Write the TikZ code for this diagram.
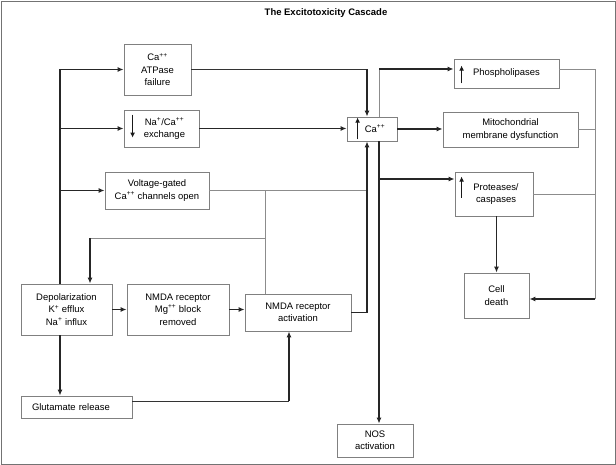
\documentclass[tikz,border=0pt]{standalone}
\usepackage{fontspec}
\setmainfont{Liberation Sans}
\usetikzlibrary{positioning, arrows.meta}

\begin{document}
\begin{tikzpicture}[x=1bp, y=-1bp,
    box/.style={rectangle, draw=black!50, line width=0.8bp, inner sep=1bp, align=center, font=\fontsize{9.5}{12.5}\selectfont},
    arr/.style={-{Latex[length=6bp,width=5bp]}, line width=1.3bp, black!85},
    link/.style={line width=0.8bp, black!45},
    dlink/.style={line width=0.9bp, black!80},
    glyph/.style={-{Latex[length=5bp,width=5bp]}, line width=1.7bp, black!90}]

    \useasboundingbox (0,0) rectangle (616,465);
    \draw[black!55, line width=0.8bp] (1,1) rectangle (615,464);

    % Nodes
    \node (title) at (326,13) [font=\bfseries\fontsize{9.5}{11}\selectfont] {The Excitotoxicity Cascade};
    \node (caatp) [box, minimum width=67bp, minimum height=51bp] at (157.5,69.5) {Ca\textsuperscript{++}\\ATPase\\failure};
    \node (naca) [box, minimum width=75bp, minimum height=37bp] at (161.5,128.5) {\hspace*{6bp}Na\textsuperscript{+}/Ca\textsuperscript{++}\\\hspace*{6bp}exchange};
    \node (vgated) [box, minimum width=104bp, minimum height=37bp] at (157,190.5) {Voltage-gated\\Ca\textsuperscript{++} channels open};
    \node (ca) [box, minimum width=50bp, minimum height=24bp] at (372,129) {\hspace*{6bp}Ca\textsuperscript{++}};
    \node (phos) [box, minimum width=105bp, minimum height=29bp] at (506.5,73.5) {Phospholipases};
    \node (mito) [box, minimum width=135bp, minimum height=35bp] at (510.5,129.5) {Mitochondrial\\membrane dysfunction};
    \node (prot) [box, minimum width=78bp, minimum height=44bp] at (494,194) {\hspace*{4bp}Proteases/\\\hspace*{4bp}caspases};
    \node (celldeath) [box, minimum width=65bp, minimum height=45bp] at (496.5,295.5) {Cell\\death};
    \node (depol) [box, minimum width=91bp, minimum height=51bp] at (66.5,309.5) {Depolarization\\K\textsuperscript{+} efflux\\Na\textsuperscript{+} influx};
    \node (mgblock) [box, minimum width=102bp, minimum height=51bp] at (178,309.5) {NMDA receptor\\Mg\textsuperscript{++} block\\removed};
    \node (nmdaact) [box, minimum width=106bp, minimum height=37bp] at (298,312.5) {NMDA receptor\\activation};
    \node (glut) [box, text width=89bp, inner xsep=11bp, align=left, minimum height=22bp] at (76.5,407) {Glutamate release};
    \node (nos) [box, minimum width=76bp, minimum height=33bp] at (375,440.5) {NOS\\activation};

    % Up and down marks inside the boxes
    \draw[glyph] ([xshift=9bp,yshift=-5bp]naca.north west) -- ([xshift=9bp,yshift=-28bp]naca.north west);
    \draw[glyph] ([xshift=11bp,yshift=2bp]ca.south west) -- ([xshift=11bp,yshift=-1bp]ca.north west);
    \draw[glyph] ([xshift=8bp,yshift=5bp]phos.south west) -- ([xshift=8bp,yshift=-7bp]phos.north west);
    \draw[glyph] ([xshift=7bp,yshift=-26bp]prot.north west) -- ([xshift=7bp,yshift=-5bp]prot.north west);

    % Helper points
    \coordinate (trunk) at (60,0);
    \coordinate (cain) at (367,0);
    \coordinate (caout) at (379,69);
    \coordinate (protin) at (379,179);
    \coordinate (fb) at (265,238);
    \coordinate (depolin) at (90,0);
    \coordinate (rtrunk) at (595,299);
    \coordinate (glutin) at (289,401);

    % Arrows on the left
    \draw[arr] (trunk |- depol.north) |- (caatp.west);
    \draw[arr] (trunk |- naca.west) -- (naca.west);
    \draw[arr] (trunk |- vgated.west) -- (vgated.west);
    \draw[arr] (trunk |- depol.south) -- (trunk |- glut.north);
    \draw[arr] (depol.east) -- (mgblock.west);
    \draw[arr] (mgblock.east) -- (mgblock.east -| nmdaact.west);
    \draw[dlink] (glut.east |- glutin) -- (glutin);
    \draw[arr] (glutin) -- (glutin |- nmdaact.south);

    % Into Ca++
    \draw[dlink] (caatp.east) -- (caatp.east -| cain);
    \draw[arr] (caatp.east -| cain) -- (cain |- ca.north);
    \draw[arr] (naca.east) -- (naca.east -| ca.west);
    \draw[link] (vgated.east) -- (vgated.east -| cain);
    \draw[arr] (nmdaact.east) -| (cain |- ca.south);
    \draw[link] (fb |- nmdaact.north) -- (fb |- vgated.east);
    \draw[link] (fb) -- (fb -| depolin);
    \draw[arr] (fb -| depolin) -- (depolin |- depol.north);

    % Out of Ca++
    \draw[link] (caout |- ca.north) -- (caout);
    \draw[arr] (caout) -- (caout -| phos.west);
    \draw[arr] (ca.east) -- (ca.east -| mito.west);
    \draw[arr] (caout |- ca.south) -- (caout |- nos.north);
    \draw[arr] (protin) -- (protin -| prot.west);

    % To cell death
    \draw[arr] (celldeath.north |- prot.south) -- (celldeath.north);
    \draw[link] (caout -| phos.east) -- (caout -| rtrunk) -- (rtrunk);
    \draw[link] (mito.east) -- (mito.east -| rtrunk);
    \draw[link] (prot.east) -- (prot.east -| rtrunk);
    \draw[arr] (rtrunk) -- (rtrunk -| celldeath.east);

\end{tikzpicture}
\end{document}
